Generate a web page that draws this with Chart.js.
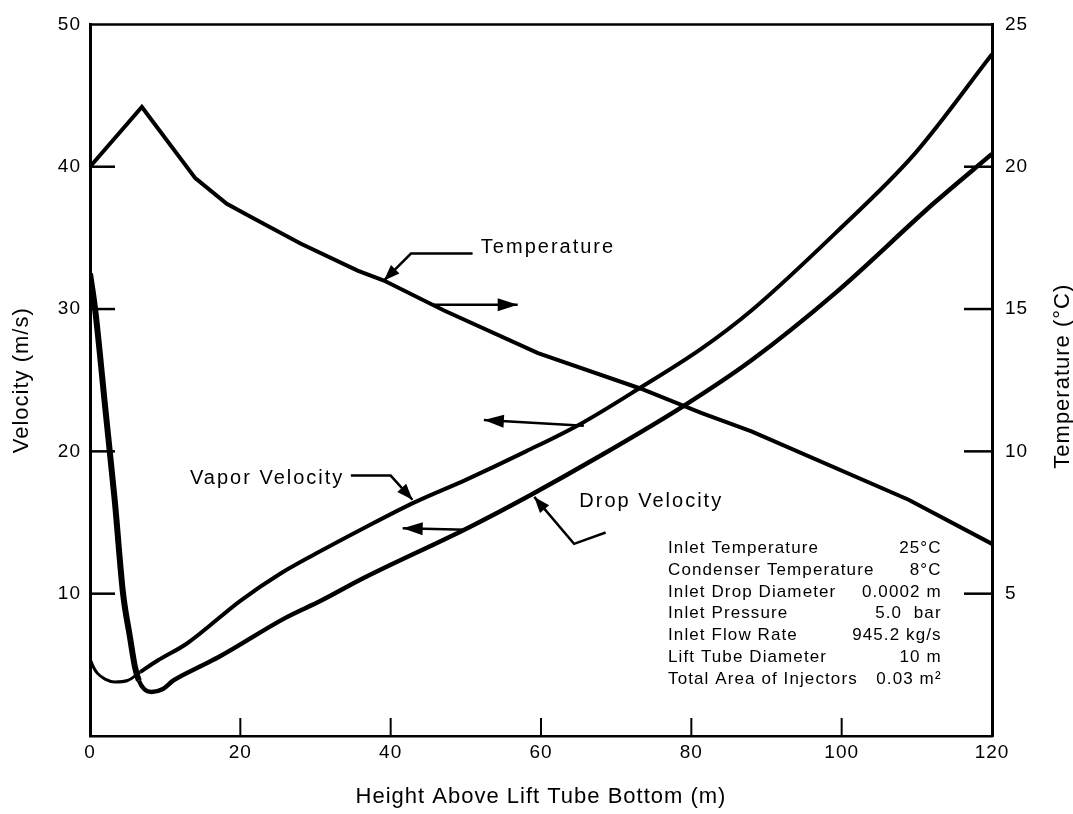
<!DOCTYPE html>
<html>
<head>
<meta charset="utf-8">
<script src="https://cdn.jsdelivr.net/npm/chart.js@4.4.0/dist/chart.umd.min.js"></script>
<style>
  html, body { margin: 0; padding: 0; background: #fff; }
</style>
</head>
<body>
<canvas id="chart" width="1073" height="814"></canvas>
<script>
// values (height in m, velocity in m/s, temperature in degC)
const tempHeight = [0, 6.9, 14, 18.2, 21.3, 28, 35.6, 39.1, 47.1, 59.6, 73.3, 81.3, 88, 108.9, 120];
const tempValue = [20, 22.1, 19.6, 18.7, 18.25, 17.3, 16.35, 16.0, 14.95, 13.45, 12.2, 11.35, 10.7, 8.3, 6.75];

const vaporHeight = [0, 0.5, 1, 2, 3.3, 5, 6.7, 9, 12.9, 20, 25.3, 30, 36.4, 43.1, 50, 58, 65.5, 73.3, 81.3, 88, 99.1, 109.7, 120];
const vaporValue = [5.4, 4.8, 4.4, 4.0, 3.8, 3.9, 4.5, 5.3, 6.5, 9.5, 11.4, 12.8, 14.6, 16.4, 18.0, 20.0, 22.0, 24.5, 27.2, 29.9, 35.3, 40.9, 47.9];

const dropHeight = [0, 0.7, 2, 3.3, 4.4, 5.3, 6.0, 6.5, 7.2, 8.2, 9.7, 11.1, 14.7, 17.3, 26, 30.7, 36.4, 50.2, 58.5, 67.6, 79, 88, 99.1, 112.4, 120];
const dropValue = [32.5, 29.9, 23.2, 16.5, 10, 7.0, 4.8, 3.9, 3.3, 3.1, 3.3, 3.9, 4.9, 5.6, 8.3, 9.5, 11.1, 14.6, 16.9, 19.6, 23.2, 26.4, 31.1, 37.5, 40.9];

const paramNames = ['Inlet Temperature', 'Condenser Temperature', 'Inlet Drop Diameter', 'Inlet Pressure', 'Inlet Flow Rate', 'Lift Tube Diameter', 'Total Area of Injectors'];
const paramValues = ['25°C', '8°C', '0.0002 m', '5.0  bar', '945.2 kg/s', '10 m', '0.03 m²'];

Chart.defaults.font.family = "'Liberation Sans', Arial, sans-serif";
Chart.defaults.color = '#000';

const toPts = (xs, ys) => xs.map((h, i) => ({ x: h, y: ys[i] }));

// callouts, placed in data units (height, velocity)
const notes = {
  labels: [
    { text: 'Temperature', x: 52, v: 34.3 },
    { text: 'Vapor Velocity', x: 13.3, v: 18.1 },
    { text: 'Drop Velocity', x: 65.1, v: 16.5 }
  ],
  pointers: [
    [[50.9, 33.9], [42.7, 33.9], [39.1, 32.0]],
    [[34.7, 18.3], [40, 18.3], [42.9, 16.6]],
    [[68.6, 14.3], [64.4, 13.5], [59.1, 16.8]]
  ],
  axisArrows: [
    [[45.3, 30.3], [56.9, 30.3]],
    [[65.7, 21.8], [52.4, 22.2]],
    [[50, 14.5], [41.6, 14.6]]
  ],
  table: { left: 76.9, right: 113.3, top: 13.2, step: 1.535 },
  rightTitle: 'Temperature (°C)'
};

function arrow(ctx, pts, len, half) {
  ctx.beginPath();
  ctx.moveTo(pts[0][0], pts[0][1]);
  for (let i = 1; i < pts.length; i++) ctx.lineTo(pts[i][0], pts[i][1]);
  ctx.stroke();
  const [x1, y1] = pts[pts.length - 2];
  const [x2, y2] = pts[pts.length - 1];
  const a = Math.atan2(y2 - y1, x2 - x1);
  ctx.beginPath();
  ctx.moveTo(x2, y2);
  ctx.lineTo(x2 - len * Math.cos(a) + half * Math.sin(a), y2 - len * Math.sin(a) - half * Math.cos(a));
  ctx.lineTo(x2 - len * Math.cos(a) - half * Math.sin(a), y2 - len * Math.sin(a) + half * Math.cos(a));
  ctx.closePath();
  ctx.fill();
}

const frame = {
  id: 'frame',
  beforeDraw(chart) {
    chart.ctx.letterSpacing = '1px';
  },
  afterDraw(chart) {
    const { ctx, chartArea: a, scales: { x, y, y2 } } = chart;
    ctx.save();
    ctx.strokeStyle = '#000';
    ctx.fillStyle = '#000';
    ctx.lineCap = 'butt';

    // top edge
    ctx.lineWidth = 2.5;
    ctx.beginPath();
    ctx.moveTo(a.left, a.top);
    ctx.lineTo(a.right + 1, a.top);
    ctx.stroke();

    // inward tick marks
    ctx.lineWidth = 2.5;
    y.ticks.forEach(t => {
      if (t.value <= y.min || t.value >= y.max) return;
      const py = y.getPixelForValue(t.value);
      ctx.beginPath(); ctx.moveTo(a.left, py); ctx.lineTo(a.left + 25, py); ctx.stroke();
    });
    y2.ticks.forEach(t => {
      if (t.value <= y2.min || t.value >= y2.max) return;
      const py = y2.getPixelForValue(t.value);
      ctx.beginPath(); ctx.moveTo(a.right, py); ctx.lineTo(a.right - 28, py); ctx.stroke();
    });
    ctx.lineWidth = 2;
    x.ticks.forEach(t => {
      if (t.value <= x.min || t.value >= x.max) return;
      const px = x.getPixelForValue(t.value);
      ctx.beginPath(); ctx.moveTo(px, a.bottom); ctx.lineTo(px, a.bottom - 18); ctx.stroke();
    });

    // right axis title, reading bottom to top like the left one
    ctx.save();
    ctx.font = "22px 'Liberation Sans', Arial, sans-serif";
    ctx.letterSpacing = '1px';
    ctx.textAlign = 'center';
    ctx.textBaseline = 'middle';
    ctx.translate(y2.right - 10, (a.top + a.bottom) / 2 - 4);
    ctx.rotate(-Math.PI / 2);
    ctx.fillText(notes.rightTitle, 0, 0);
    ctx.restore();

    const P = p => [x.getPixelForValue(p[0]), y.getPixelForValue(p[1])];

    // callout text
    ctx.font = "20px 'Liberation Sans', Arial, sans-serif";
    ctx.letterSpacing = '2px';
    ctx.textAlign = 'left';
    ctx.textBaseline = 'middle';
    notes.labels.forEach(l => {
      const [px, py] = P([l.x, l.v]);
      ctx.fillText(l.text, px, py);
    });

    ctx.lineWidth = 2.5;
    ctx.lineJoin = 'miter';
    notes.pointers.forEach(p => arrow(ctx, p.map(P), 16, 6));
    notes.axisArrows.forEach(p => arrow(ctx, p.map(P), 20, 6.5));

    // parameter table
    const tb = notes.table;
    ctx.font = "17px 'Liberation Sans', Arial, sans-serif";
    ctx.letterSpacing = '1.1px';
    paramNames.forEach((name, i) => {
      const py = y.getPixelForValue(tb.top - i * tb.step);
      ctx.textAlign = 'left';
      ctx.fillText(name, x.getPixelForValue(tb.left), py);
      ctx.textAlign = 'right';
      ctx.fillText(paramValues[i], x.getPixelForValue(tb.right), py);
    });
    ctx.restore();
  }
};

new Chart(document.getElementById('chart'), {
  type: 'line',
  data: {
    datasets: [
      {
        label: 'Temperature',
        yAxisID: 'y2',
        data: toPts(tempHeight, tempValue),
        borderColor: '#000',
        borderWidth: 4,
        pointRadius: 0,
        tension: 0
      },
      {
        label: 'Vapor Velocity',
        yAxisID: 'y',
        data: toPts(vaporHeight, vaporValue),
        borderColor: '#000',
        borderWidth: 4,
        pointRadius: 0,
        cubicInterpolationMode: 'monotone',
        segment: { borderWidth: c => (c.p1.parsed.x <= 6.7 ? 3 : 4) }
      },
      {
        label: 'Drop Velocity',
        yAxisID: 'y',
        data: toPts(dropHeight, dropValue),
        borderColor: '#000',
        borderWidth: 4.5,
        pointRadius: 0,
        cubicInterpolationMode: 'monotone',
        segment: { borderWidth: c => (c.p1.parsed.x <= 6.5 ? 6 : 4.5) }
      }
    ]
  },
  options: {
    responsive: false,
    animation: false,
    layout: { padding: { top: 20, left: 0, right: 0, bottom: 0 } },
    plugins: { legend: { display: false }, tooltip: { enabled: false } },
    scales: {
      x: {
        type: 'linear',
        position: 'bottom',
        min: 0,
        max: 120,
        ticks: { stepSize: 20, padding: 5.6, font: { size: 19 } },
        grid: { display: false, drawTicks: false },
        border: { color: '#000', width: 2.5 },
        title: {
          display: true,
          text: 'Height Above Lift Tube Bottom (m)',
          font: { size: 22 },
          padding: { top: 0, bottom: 3.8 }
        },
        afterFit(s) { s.height = 78; }
      },
      y: {
        position: 'left',
        min: 0,
        max: 50,
        ticks: { stepSize: 10, padding: 9, font: { size: 19 }, callback: v => (v === 0 ? '' : v) },
        grid: { display: false, drawTicks: false },
        border: { color: '#000', width: 3 },
        title: {
          display: true,
          text: 'Velocity (m/s)',
          font: { size: 22 },
          padding: { top: 8.8, bottom: 0 }
        },
        afterFit(s) { s.width = 90; }
      },
      y2: {
        position: 'right',
        min: 0,
        max: 25,
        ticks: { stepSize: 5, padding: 13, font: { size: 19 }, callback: v => (v === 0 ? '' : v) },
        grid: { display: false, drawTicks: false },
        border: { color: '#000', width: 3 },
        title: { display: false },
        afterFit(s) { s.width = 81; }
      }
    }
  },
  plugins: [frame]
});
</script>
</body>
</html>
